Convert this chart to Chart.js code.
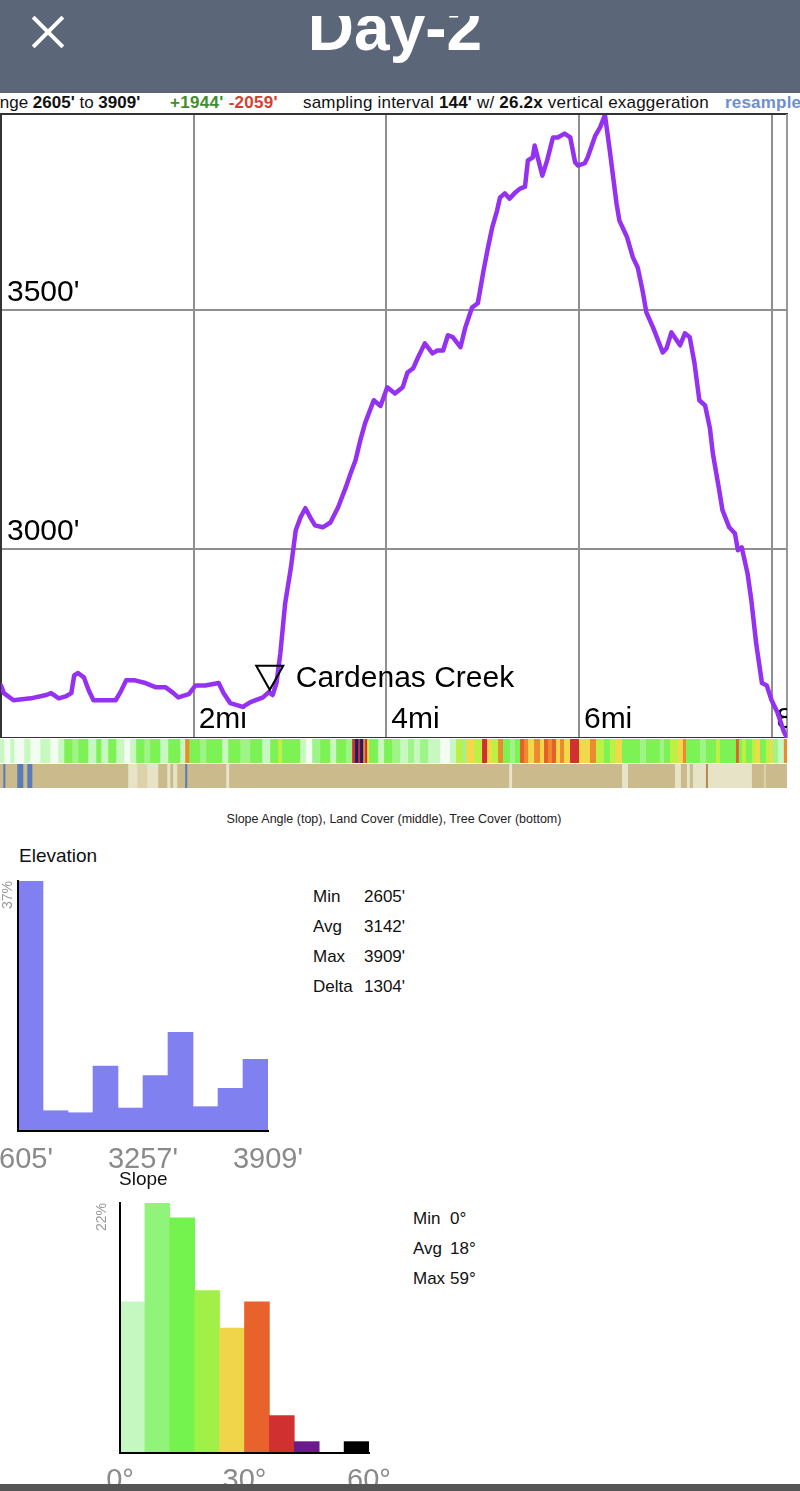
<!DOCTYPE html>
<html><head><meta charset="utf-8">
<script src="https://cdn.jsdelivr.net/npm/chart.js@4"></script>
<style>
html,body{margin:0;padding:0;background:#fff;}
body{width:800px;height:1491px;position:relative;overflow:hidden;font-family:"Liberation Sans",Arial,Helvetica,sans-serif;color:#111;}
.abs{position:absolute;}
canvas{position:absolute;display:block;}
.info{position:absolute;top:93px;height:20px;line-height:20px;font-size:17px;letter-spacing:0.2px;white-space:nowrap;color:#111;}
.stat{position:absolute;font-size:17px;line-height:20px;white-space:nowrap;color:#111;}
</style>
</head><body>
<div class="abs" style="left:0;top:0;width:800px;height:93px;background:#5b6678;"></div>
<div class="abs" style="left:27px;top:30px;width:42px;height:4px;background:#fff;transform:rotate(45deg);"></div>
<div class="abs" style="left:27px;top:30px;width:42px;height:4px;background:#fff;transform:rotate(-45deg);"></div>
<div class="abs" style="left:0;top:16px;width:800px;height:77px;overflow:hidden;">
  <div class="abs" style="left:0;top:-20px;width:790px;text-align:center;font-weight:bold;font-size:64px;line-height:64px;color:#fff;">Day-2</div>
</div>

<div class="info" style="left:-22px;letter-spacing:0;">Range <b>2605'</b> to <b>3909'</b></div>
<div class="info" style="left:170px;letter-spacing:0.3px;"><b style="color:#3f8f2f">+1944'</b> <b style="color:#d4402f">-2059'</b></div>
<div class="info" style="left:303px;">sampling interval <b>144'</b> w/ <b>26.2x</b> vertical exaggeration</div>
<div class="info" style="left:725px;color:#6d8fcf;font-weight:bold;">resample</div>

<div class="abs" style="left:0;top:113px;width:788px;height:2px;background:#333;"></div>
<div class="abs" style="left:786px;top:114px;width:2px;height:624px;background:#999;"></div>
<canvas id="prof" width="787" height="623" style="left:0;top:115px;"></canvas>
<canvas id="slopeStrip" width="787" height="24" style="left:0;top:739px;"></canvas>
<canvas id="coverStrip" width="787" height="24" style="left:0;top:764px;"></canvas>
<div class="abs" style="left:0;top:811px;width:788px;text-align:center;font-size:12.5px;line-height:16px;color:#222;">Slope Angle (top), Land Cover (middle), Tree Cover (bottom)</div>

<div class="abs" style="left:19px;top:845px;font-size:19px;line-height:22px;">Elevation</div>
<canvas id="elevHist" width="310" height="310" style="left:0;top:870px;"></canvas>
<div id="elevStats"></div>

<div class="abs" style="left:119px;top:1168px;font-size:19px;line-height:22px;">Slope</div>
<canvas id="slopeHist" width="310" height="301" style="left:94px;top:1190px;"></canvas>
<div id="slopeStats"></div>

<div class="abs" style="left:0;top:1484px;width:800px;height:7px;background:#555;"></div>

<script>
// ---------- data ----------
const totalMi = 8.16;
const distMi = [0.00,0.03,0.13,0.31,0.47,0.52,0.60,0.67,0.73,0.76,0.80,0.86,0.91,0.96,1.19,1.24,1.30,1.38,1.50,1.61,1.71,1.79,1.84,1.95,2.02,2.12,2.26,2.31,2.38,2.51,2.59,2.72,2.78,2.82,2.86,2.90,2.95,3.01,3.06,3.11,3.16,3.21,3.26,3.34,3.42,3.50,3.58,3.63,3.68,3.73,3.78,3.87,3.94,4.01,4.09,4.17,4.22,4.28,4.33,4.40,4.48,4.53,4.59,4.64,4.69,4.77,4.82,4.89,4.95,5.01,5.05,5.10,5.15,5.18,5.23,5.28,5.34,5.39,5.44,5.47,5.52,5.54,5.58,5.62,5.67,5.73,5.78,5.85,5.91,5.96,5.99,6.06,6.09,6.17,6.22,6.27,6.32,6.39,6.42,6.50,6.56,6.61,6.66,6.70,6.77,6.87,6.91,6.96,7.05,7.10,7.15,7.20,7.25,7.31,7.36,7.39,7.46,7.49,7.56,7.62,7.65,7.69,7.75,7.79,7.84,7.90,7.95,8.00,8.06,8.13,8.16];
const elevFt = [2715,2699,2684,2688,2695,2699,2688,2692,2699,2736,2741,2732,2705,2684,2684,2701,2726,2726,2720,2711,2711,2699,2690,2697,2715,2715,2720,2699,2678,2670,2680,2690,2701,2695,2720,2782,2887,2962,3040,3067,3086,3067,3050,3046,3056,3088,3130,3159,3186,3228,3264,3312,3300,3339,3326,3339,3370,3379,3402,3431,3410,3416,3416,3448,3444,3423,3464,3506,3515,3584,3626,3674,3709,3736,3745,3734,3747,3755,3759,3814,3820,3845,3814,3782,3814,3862,3862,3870,3862,3810,3803,3808,3820,3866,3883,3909,3835,3724,3688,3653,3611,3590,3542,3496,3464,3412,3421,3454,3427,3452,3444,3389,3312,3301,3253,3201,3119,3082,3046,3033,2998,3004,2950,2893,2803,2720,2715,2684,2659,2617,2605];
const elevMinFt = 2605, elevMaxFt = 3909;
const xTicksMi = [2,4,6,8];
const yTicksFt = [3000,3500];
const wpMi = [2.79];
const wpName = ['Cardenas Creek'];

// slope strip runs (start mile, slope class)
const slopeRunMi = [0.000,0.041,0.104,0.145,0.249,0.311,0.415,0.518,0.601,0.663,0.746,0.808,0.912,0.995,1.047,1.119,1.202,1.285,1.347,1.409,1.492,1.554,1.658,1.741,1.865,1.917,1.959,2.073,2.135,2.301,2.363,2.487,2.591,2.715,2.798,2.881,2.922,3.109,3.171,3.233,3.316,3.420,3.482,3.585,3.648,3.679,3.710,3.731,3.762,3.782,3.803,3.824,3.917,3.979,4.062,4.145,4.228,4.290,4.352,4.435,4.560,4.663,4.725,4.788,4.829,4.912,4.995,5.047,5.098,5.161,5.212,5.285,5.337,5.389,5.430,5.472,5.534,5.596,5.637,5.679,5.720,5.762,5.803,5.845,5.907,6.000,6.114,6.176,6.259,6.321,6.383,6.446,6.632,6.694,6.839,6.881,6.943,7.026,7.078,7.109,7.254,7.316,7.420,7.461,7.627,7.658,7.689,7.731,7.793,7.834,7.876,7.938,7.979,8.010,8.062,8.124];
const slopeRunCls = [1,0,1,0,1,0,1,0,1,3,2,3,1,3,1,3,1,0,1,3,2,3,1,3,1,6,3,2,3,1,3,2,3,1,3,4,3,1,0,2,3,1,3,2,8,10,8,10,6,8,5,3,1,3,2,1,2,1,2,1,0,1,4,2,5,4,8,5,4,6,3,2,3,7,6,5,6,5,7,6,7,5,6,5,8,5,6,4,3,4,5,3,2,3,2,3,4,5,6,3,2,3,4,3,7,3,4,3,4,5,3,4,5,2,1,6];
// land/tree cover strip runs (start mile, cover class)
const coverRunMi = [0,0.031,0.052,0.176,0.238,0.280,0.332,1.326,1.420,1.523,1.637,1.731,1.762,1.793,1.834,1.917,1.938,2.342,2.373,5.275,5.306,6.446,6.508,6.995,7.057,7.119,7.150,7.181,7.316,7.337,7.793,7.917,7.938];
const coverRunCls = [0,3,0,3,0,3,0,2,1,2,0,2,0,2,0,3,0,2,0,2,0,2,0,2,0,2,0,2,4,2,0,1,0];

// histograms
const elevBinLabels = ['2605','2735','2866','2996','3127','3257','3387','3518','3648','3779'];
const elevPct = [37.0,3.0,2.7,9.6,3.4,8.2,14.6,3.6,6.3,10.6];
const elevTickFt = [2605,3257,3909];
const elevStats = [['Min',"2605'"],['Avg',"3142'"],['Max',"3909'"],['Delta',"1304'"]];

const slopeBinLabels = ['0','6','12','18','24','30','36','42','48','54'];
const slopePct = [13.3,22.0,20.7,14.3,11.0,13.3,3.3,1.0,0,1.0];
const slopeTickDeg = [0,30,60];
const slopeStats = [['Min','0°'],['Avg','18°'],['Max','59°']];

// ---------- styles ----------
const FONT = '"Liberation Sans", Arial, Helvetica, sans-serif';
Chart.defaults.font.family = FONT;
const slopePalette = ['#f3fcf0','#c6f8bf','#9ef486','#7cf255','#bdf044','#f2d84a','#ec8a30','#e6602a','#d03030','#6a1a8a','#14206e'];
const coverPalette = ['#cbbb8c','#dcd2aa','#e7e3c6','#5a7cb6','#b08a50'];
const slopeHistColors = ['#c4f8c0','#90f47a','#74f24e','#a0f048','#f0d44a','#e8622c','#d03030','#6a1a8a','#ffffff','#000000'];

const common = {responsive:false, animation:false, events:[], plugins:{legend:{display:false}, tooltip:{enabled:false}}};
function noPad(s){ s.paddingLeft=0; s.paddingRight=0; s.paddingTop=0; s.paddingBottom=0; }
function elevAt(mi){
  for(let i=1;i<distMi.length;i++){
    if(distMi[i]>=mi){ const t=(mi-distMi[i-1])/(distMi[i]-distMi[i-1]); return elevFt[i-1]+t*(elevFt[i]-elevFt[i-1]); }
  }
  return elevFt[elevFt.length-1];
}

// ---------- profile ----------
const waypointPlugin = {
  id:'waypoints',
  afterDatasetsDraw(chart){
    const {ctx, scales:{x,y}} = chart;
    ctx.save();
    wpMi.forEach((mi,i)=>{
      const px = x.getPixelForValue(mi);
      const apex = y.getPixelForValue(elevAt(mi)) - 3;
      const h = 24, hw = 13.5;
      ctx.beginPath();
      ctx.moveTo(px-hw, apex-h); ctx.lineTo(px+hw, apex-h); ctx.lineTo(px, apex); ctx.closePath();
      ctx.strokeStyle = '#000'; ctx.lineWidth = 2; ctx.stroke();
      ctx.font = '30px ' + FONT; ctx.fillStyle = '#000';
      ctx.textAlign = 'left'; ctx.textBaseline = 'middle';
      ctx.fillText(wpName[i], px+26, apex-h/2+1);
    });
    ctx.restore();
  }
};

new Chart(document.getElementById('prof'), {
  type:'line',
  data:{datasets:[{
    data: distMi.map((d,i)=>({x:d, y:elevFt[i]})),
    borderColor:'#9531f0', borderWidth:4.5, pointRadius:0, tension:0, fill:false,
    borderJoinStyle:'round', borderCapStyle:'round'
  }]},
  options:{...common,
    layout:{padding:{left:1,right:0,top:0,bottom:0}},
    scales:{
      x:{type:'linear', position:'bottom', min:0, max:totalMi, offset:false,
        grid:{color:'#8f8f8f', lineWidth:2, drawTicks:false, offset:false},
        border:{display:true, color:'#333', width:2},
        ticks:{mirror:true, align:'start', padding:0, labelOffset:5, maxRotation:0, autoSkip:false,
          font:{size:30, family:FONT}, color:'#000', callback:v=>v+'mi'},
        afterBuildTicks:s=>{ s.ticks = xTicksMi.map(v=>({value:v})); },
        afterFit:s=>{ s.height = 0; noPad(s); }
      },
      y:{type:'linear', position:'left', min:elevMinFt, max:elevMaxFt,
        grid:{color:'#8f8f8f', lineWidth:2, drawTicks:false},
        border:{display:true, color:'#333', width:2},
        ticks:{mirror:true, padding:6, labelOffset:-18, font:{size:30, family:FONT}, color:'#000', callback:v=>v+"'"},
        afterBuildTicks:s=>{ s.ticks = yTicksFt.map(v=>({value:v})); },
        afterFit:s=>{ s.width = 0; noPad(s); }
      }
    }
  },
  plugins:[waypointPlugin]
});

// ---------- strips ----------
function strip(id, runs, cls, palette){
  const ds = runs.map((s,i)=>({
    data:[[s, i+1<runs.length ? runs[i+1] : totalMi]],
    backgroundColor: palette[cls[i]], borderWidth:0,
    barPercentage:1, categoryPercentage:1, grouped:false
  }));
  new Chart(document.getElementById(id), {
    type:'bar',
    data:{labels:[''], datasets:ds},
    options:{...common, indexAxis:'y', layout:{padding:0},
      scales:{x:{type:'linear', min:0, max:totalMi, display:false, offset:false}, y:{display:false}}}
  });
}
strip('slopeStrip', slopeRunMi, slopeRunCls, slopePalette);
strip('coverStrip', coverRunMi, coverRunCls, coverPalette);

// ---------- histograms ----------
function hist(id, labels, values, colors, tickVals, tMin, tMax, suffix, padTop, padRight, yWidth, xH, tickPad){
  const maxV = Math.max(...values);
  new Chart(document.getElementById(id), {
    type:'bar',
    data:{labels:labels, datasets:[{data:values, backgroundColor:colors, borderWidth:0, barPercentage:1, categoryPercentage:1}]},
    options:{...common,
      layout:{padding:{top:padTop, right:padRight, left:0, bottom:0}},
      scales:{
        x:{display:false},
        xl:{type:'linear', position:'bottom', min:tMin, max:tMax, offset:false,
          grid:{display:false, drawTicks:false, offset:false},
          border:{display:true, color:'#000', width:2, z:1},
          ticks:{padding:tickPad, maxRotation:0, autoSkip:false, font:{size:29, family:FONT}, color:'#8a8a8a', callback:v=>v+suffix},
          afterBuildTicks:s=>{ s.ticks = tickVals.map(v=>({value:v})); },
          afterFit:s=>{ s.height = xH; noPad(s); }
        },
        y:{min:0, max:maxV,
          grid:{display:false, drawTicks:false},
          border:{display:true, color:'#000', width:2, z:1},
          ticks:{display:false},
          title:{display:true, text:Math.round(maxV)+'%', align:'end', color:'#9a9a9a', font:{size:14, family:FONT}, padding:0},
          afterFit:s=>{ s.width = yWidth; noPad(s); }
        }
      }
    }
  });
}
hist('elevHist', elevBinLabels, elevPct, '#8080f0', elevTickFt, elevMinFt, elevMaxFt, "'", 11, 42, 18, 49, 12);
hist('slopeHist', slopeBinLabels, slopePct, slopeHistColors, slopeTickDeg, 0, 60, '°', 13, 35, 26, 38, 11);

// ---------- stats ----------
function stats(elId, rows, left, valLeft, top0){
  const el = document.getElementById(elId);
  rows.forEach((r,i)=>{
    const a = document.createElement('div'); a.className='stat';
    a.style.left = left+'px'; a.style.top = (top0 + i*30)+'px'; a.textContent = r[0];
    const b = document.createElement('div'); b.className='stat';
    b.style.left = valLeft+'px'; b.style.top = (top0 + i*30)+'px'; b.textContent = r[1];
    el.appendChild(a); el.appendChild(b);
  });
}
stats('elevStats', elevStats, 313, 364, 887);
stats('slopeStats', slopeStats, 413, 450, 1209);
</script>
</body></html>
